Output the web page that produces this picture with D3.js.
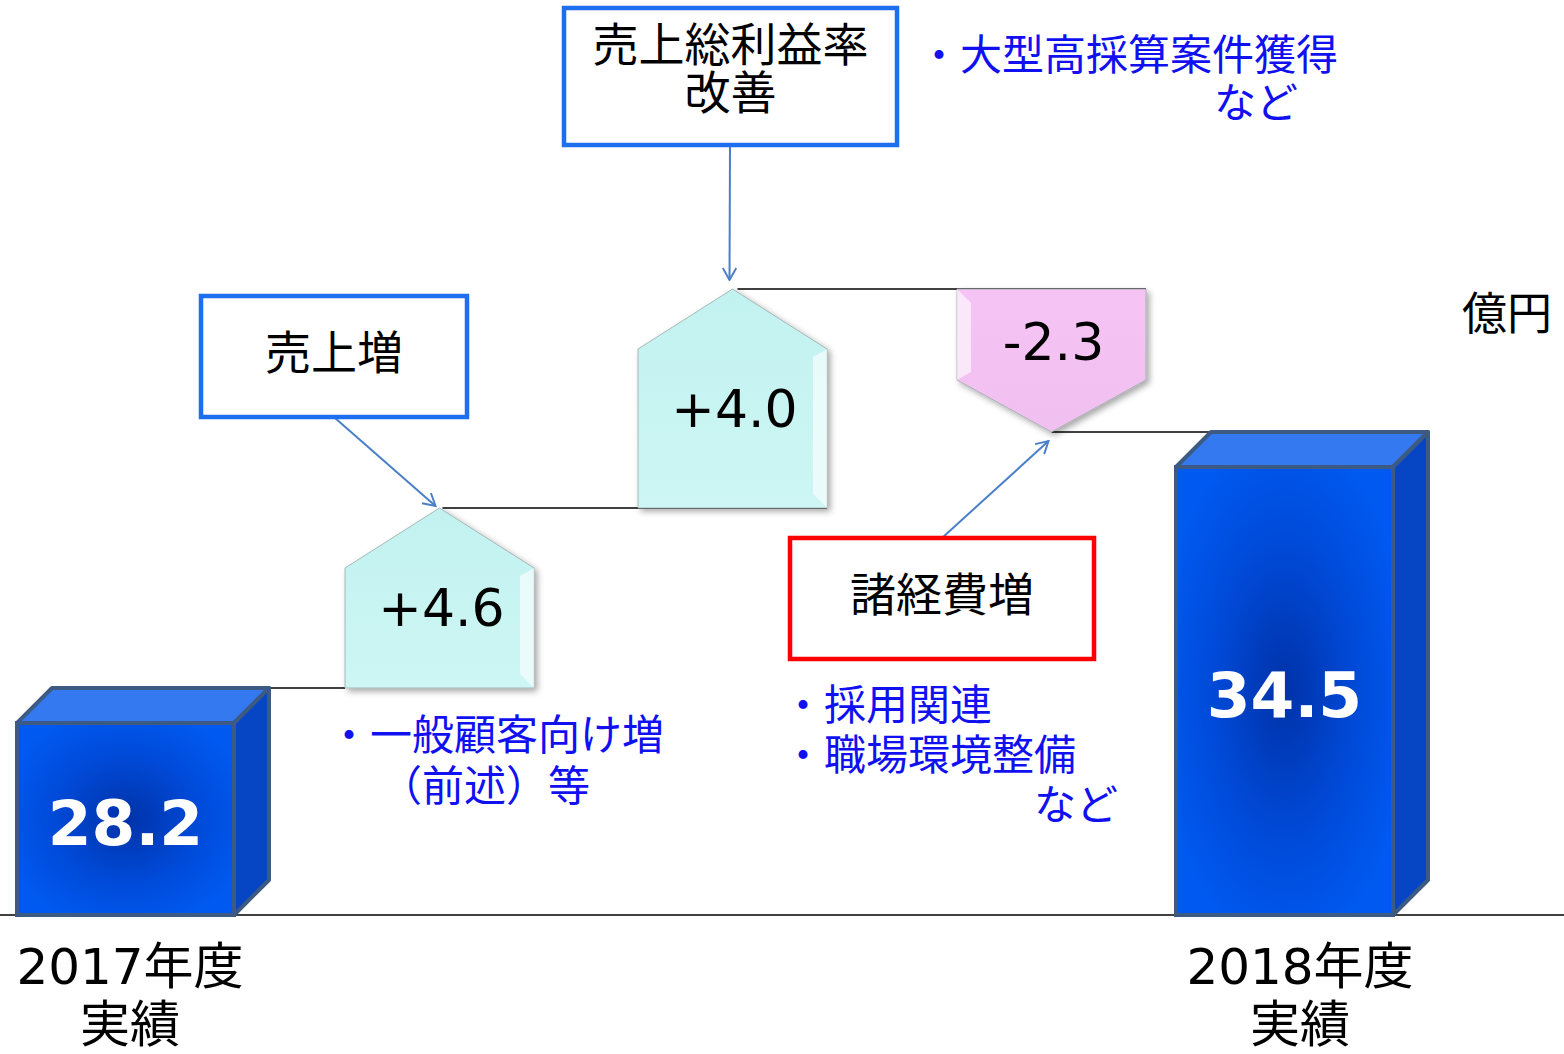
<!DOCTYPE html>
<html>
<head>
<meta charset="utf-8">
<script src="https://cdn.jsdelivr.net/npm/d3@7"></script>
<style>
  body { margin: 0; background: #fff; }
  svg { display: block; }
</style>
</head>
<body>
<div id="chart"></div>
<script>
// data
const categories = ["2017年度実績", "売上増", "売上総利益率改善", "諸経費増", "2018年度実績"];
const values = [28.2, 4.6, 4.0, -2.3, 34.5];
const kinds = ["total", "delta", "delta", "delta", "total"];
const valueLabels = ["28.2", "+4.6", "+4.0", "-2.3", "34.5"];
const axisLabels = [["2017年度", "実績"], null, null, null, ["2018年度", "実績"]];
const unitLabel = "億円";

// callout boxes and notes
const boxLines = [null, ["売上増"], ["売上総利益率", "改善"], ["諸経費増"], null];
const boxColors = [null, "#1e6ff0", "#1e6ff0", "#ff0000", null];
const noteLines = [null, ["・一般顧客向け増", "（前述）等"], ["・大型高採算案件獲得", "など"], ["・採用関連", "・職場環境整備", "など"], null];

const W = 1564, H = 1054;
const baseY = 915;

const svg = d3.select("#chart").append("svg")
    .attr("width", W)
    .attr("height", H);

// running totals
let run = 0;
const steps = values.map((v, i) => {
    let start, end;
    if (kinds[i] === "total") { start = 0; end = v; run = v; }
    else { start = run; end = run + v; run = end; }
    return { cat: categories[i], v, start, end, kind: kinds[i], label: valueLabels[i], i };
});

// the original chart is not to scale, so piecewise linear scale
const yStops = [0, 28.2, 32.8, 34.5, 36.8];
const y = d3.scaleLinear()
    .domain(yStops)
    .range([baseY, 688, 508, 432, 289]);

// x positions (left edge) by index
const x = d3.scaleLinear()
    .domain([0, 1, 2, 3, 4])
    .range([17, 345, 638, 957, 1176]);
const barW = 217, pentW = 189, depth = 35;

const defs = svg.append("defs");
const rg = defs.append("radialGradient").attr("id", "barGrad")
    .attr("cx", "50%").attr("cy", "50%").attr("r", "60%");
rg.append("stop").attr("offset", "0%").attr("stop-color", "#0032a8");
rg.append("stop").attr("offset", "55%").attr("stop-color", "#004ad8");
rg.append("stop").attr("offset", "100%").attr("stop-color", "#005af2");

const sh = defs.append("filter").attr("id", "shadow")
    .attr("x", "-10%").attr("y", "-10%").attr("width", "130%").attr("height", "130%");
sh.append("feDropShadow").attr("dx", 3).attr("dy", 3).attr("stdDeviation", 3)
    .attr("flood-color", "#000").attr("flood-opacity", 0.35);

const upG = defs.append("linearGradient").attr("id", "cyanGrad")
    .attr("x1", 0).attr("y1", 0).attr("x2", 0).attr("y2", 1);
upG.append("stop").attr("offset", "0%").attr("stop-color", "#c2f2f0");
upG.append("stop").attr("offset", "100%").attr("stop-color", "#cdf6f4");
const dnG = defs.append("linearGradient").attr("id", "pinkGrad")
    .attr("x1", 0).attr("y1", 0).attr("x2", 0).attr("y2", 1);
dnG.append("stop").attr("offset", "0%").attr("stop-color", "#f6c4f4");
dnG.append("stop").attr("offset", "100%").attr("stop-color", "#f0c0f0");

const arrowM = defs.append("marker").attr("id", "arr")
    .attr("viewBox", "0 0 10 10").attr("refX", 9).attr("refY", 5)
    .attr("markerWidth", 15).attr("markerHeight", 15).attr("orient", "auto")
    .attr("markerUnits", "userSpaceOnUse");
arrowM.append("path").attr("d", "M1,0.5 L9,5 L1,9.5")
    .attr("fill", "none").attr("stroke", "#4a7fc8").attr("stroke-width", 1.3);

// baseline
svg.append("line")
    .attr("x1", 0).attr("x2", W)
    .attr("y1", baseY).attr("y2", baseY)
    .attr("stroke", "#000").attr("stroke-width", 1.5);

// connector lines
const connectors = [
    { v: steps[0].end, x1: x(0) + barW + depth, x2: x(1) },
    { v: steps[1].end, x1: x(1) + pentW / 2 + 3, x2: x(2) + pentW },
    { v: steps[2].end, x1: x(2) + pentW / 2 + 5, x2: x(3) + pentW },
    { v: steps[3].end, x1: x(3) + pentW / 2, x2: x(4) + depth }
];
svg.append("g").selectAll("line")
    .data(connectors)
    .join("line")
    .attr("x1", d => d.x1).attr("x2", d => d.x2)
    .attr("y1", d => y(d.v)).attr("y2", d => y(d.v))
    .attr("stroke", "#000").attr("stroke-width", 1.5);

// 3D total bars
const totals = steps.filter(d => d.kind === "total");
const bars = svg.append("g").selectAll("g").data(totals).join("g");
bars.append("path") // top face
    .attr("d", d => {
        const x0 = x(d.i), yt = y(d.end);
        return `M${x0},${yt + depth} L${x0 + depth},${yt} L${x0 + barW + depth},${yt} L${x0 + barW},${yt + depth}Z`;
    })
    .attr("fill", "#3479f0").attr("stroke", "#3c5a82").attr("stroke-width", 4).attr("stroke-linejoin", "round");
bars.append("path") // side face
    .attr("d", d => {
        const x0 = x(d.i) + barW, yt = y(d.end);
        return `M${x0},${yt + depth} L${x0 + depth},${yt} L${x0 + depth},${baseY - depth} L${x0},${baseY}Z`;
    })
    .attr("fill", "#0646c4").attr("stroke", "#3c5a82").attr("stroke-width", 4).attr("stroke-linejoin", "round");
bars.append("rect") // front
    .attr("x", d => x(d.i))
    .attr("y", d => y(d.end) + depth)
    .attr("width", barW)
    .attr("height", d => baseY - y(d.end) - depth)
    .attr("fill", "url(#barGrad)")
    .attr("stroke", "#3c5a82").attr("stroke-width", 4);
bars.append("text")
    .attr("x", d => x(d.i) + barW / 2)
    .attr("y", d => (y(d.end) + depth + baseY) / 2 + 26)
    .attr("text-anchor", "middle")
    .attr("fill", "#fff")
    .attr("style", "font-size: 63px; font-weight: bold; font-family: 'DejaVu Sans', Verdana, sans-serif")
    .text(d => d.label);

// delta pentagons
const deltas = steps.filter(d => d.kind === "delta");
const pents = svg.append("g").selectAll("g").data(deltas).join("g");
function pentPath(d) {
    const x0 = x(d.i), x1 = x0 + pentW, xm = x0 + pentW / 2;
    if (d.v >= 0) {
        const top = y(d.end), bot = y(d.start), sh = top + 60;
        return `M${xm},${top} L${x1},${sh} L${x1},${bot} L${x0},${bot} L${x0},${sh}Z`;
    } else {
        const top = y(d.start), tip = y(d.end), sh = tip - 52;
        return `M${x0},${top} L${x1},${top} L${x1},${sh} L${xm},${tip} L${x0},${sh}Z`;
    }
}
pents.append("path")
    .attr("d", pentPath)
    .attr("fill", d => d.v >= 0 ? "url(#cyanGrad)" : "url(#pinkGrad)")
    .attr("stroke", "#9aa8a8").attr("stroke-width", 0.8)
    .attr("filter", "url(#shadow)");
// bevel highlights
pents.append("path")
    .attr("d", d => {
        const x0 = x(d.i), x1 = x0 + pentW, b = 14;
        if (d.v >= 0) {
            const bot = y(d.start), sh = y(d.end) + 60;
            return `M${x1},${sh} L${x1},${bot} L${x1 - b},${bot - b} L${x1 - b},${sh + 8}Z`;
        }
        const top = y(d.start), sh = y(d.end) - 52;
        return `M${x0},${top} L${x0},${sh} L${x0 + b},${sh - 8} L${x0 + b},${top + b}Z`;
    })
    .attr("fill", "#fff").attr("opacity", 0.6);
pents.append("text")
    .attr("x", d => x(d.i) + pentW / 2 + 2)
    .attr("y", d => d.v >= 0 ? (y(d.start) + y(d.end)) / 2 + 28 : y(d.start) + 71)
    .attr("text-anchor", "middle")
    .attr("fill", "#000")
    .attr("style", "font-size: 52px; font-family: 'DejaVu Sans', Verdana, sans-serif")
    .text(d => d.label);

// category labels under the totals
const labelCx = { 0: 130, 4: 1300 };
const catG = svg.append("g");
steps.forEach(d => {
    if (!axisLabels[d.i]) return;
    axisLabels[d.i].forEach((t, k) => {
        catG.append("text")
            .attr("x", labelCx[d.i]).attr("y", 984 + k * 58)
            .attr("text-anchor", "middle")
            .attr("style", "font-size: 50px; font-family: 'DejaVu Sans', 'Noto Sans CJK JP', sans-serif")
            .text(t);
    });
});

// unit
svg.append("text")
    .attr("x", 1507).attr("y", 330)
    .attr("text-anchor", "middle")
    .attr("style", "font-size: 45px; font-family: 'Noto Sans CJK JP', sans-serif")
    .text(unitLabel);

// callout boxes (layout per step)
const boxLayout = {
    1: { x: 201, y: 296, w: 266, h: 121, ax1: 335, ay1: 418 },
    2: { x: 564, y: 8, w: 333, h: 137, ax1: 730, ay1: 146 },
    3: { x: 790, y: 538, w: 304, h: 121, ax1: 942, ay1: 538 }
};
const arrowTargets = {
    1: d => [x(1) + pentW / 2 - 4, y(d.end) - 2],
    2: d => [x(2) + pentW / 2 - 3, y(d.end) - 9],
    3: d => [x(3) + pentW / 2 - 3, y(d.end) + 9]
};
const boxG = svg.append("g");
steps.forEach(d => {
    if (!boxLines[d.i]) return;
    const L = boxLayout[d.i];
    const [tx, ty] = arrowTargets[d.i](d);
    boxG.append("line")
        .attr("x1", L.ax1).attr("y1", L.ay1)
        .attr("x2", tx).attr("y2", ty)
        .attr("stroke", "#4a7fc8").attr("stroke-width", 2)
        .attr("marker-end", "url(#arr)");
    boxG.append("rect")
        .attr("x", L.x).attr("y", L.y).attr("width", L.w).attr("height", L.h)
        .attr("fill", "#fff")
        .attr("stroke", boxColors[d.i]).attr("stroke-width", 4.5);
    const lines = boxLines[d.i];
    const lh = 48;
    const y0 = L.y + L.h / 2 - (lines.length - 1) * lh / 2 + 12;
    lines.forEach((t, k) => {
        boxG.append("text")
            .attr("x", L.x + L.w / 2).attr("y", y0 + k * lh - (lines.length > 1 ? 4 : 0))
            .attr("text-anchor", "middle")
            .attr("fill", "#000")
            .attr("style", "font-size: 46px; font-family: 'Noto Sans CJK JP', sans-serif")
            .text(t);
    });
});

// blue notes
const noteLayout = {
    1: [{ x: 328, y: 750, a: "start" }, { x: 380, y: 801, a: "start" }],
    2: [{ x: 918, y: 70, a: "start" }, { x: 1298, y: 118, a: "end" }],
    3: [{ x: 782, y: 720, a: "start" }, { x: 782, y: 770, a: "start" }, { x: 1118, y: 820, a: "end" }]
};
const noteG = svg.append("g");
steps.forEach(d => {
    if (!noteLines[d.i]) return;
    noteLines[d.i].forEach((t, k) => {
        const L = noteLayout[d.i][k];
        noteG.append("text")
            .attr("x", L.x).attr("y", L.y)
            .attr("text-anchor", L.a)
            .attr("fill", "#1010f0")
            .attr("style", "font-size: 42px; font-family: 'Noto Sans CJK JP', sans-serif")
            .text(t);
    });
});
</script>
</body>
</html>
